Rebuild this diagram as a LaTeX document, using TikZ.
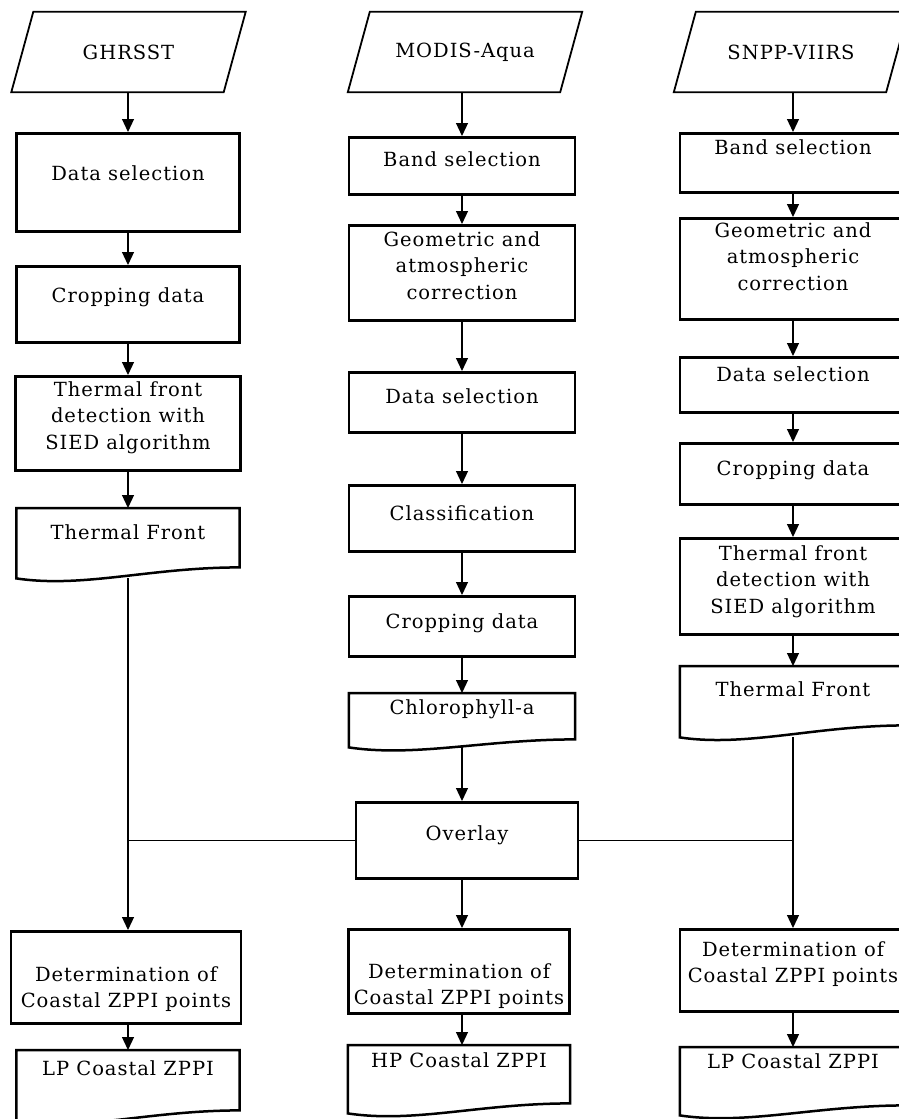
\documentclass[tikz,border=0pt]{standalone}
\usepackage{fontspec}
\setmainfont{DejaVu Serif}[LetterSpace=5]
\usetikzlibrary{positioning,arrows.meta}

% wavy bottom of a document box: node name, rise of the right end
\newcommand{\docwave}[2]{%
  \draw[line width=2.5pt] (#1.north west) -- (#1.north east) -- ([yshift=#2pt]#1.south east)
    .. controls ([xshift=-90pt,yshift=#2pt]#1.south east) and ([xshift=67pt,yshift=-10pt]#1.south west) .. (#1.south west) -- cycle;}
% slanted outline of an input node
\newcommand{\slanted}[1]{%
  \draw[line width=1.8pt] ([xshift=22pt]#1.north west) -- (#1.north east) -- ([xshift=-22pt]#1.south east) -- (#1.south west) -- cycle;}

\begin{document}
\begin{tikzpicture}[x=1pt,y=-1pt,font=\fontsize{19.5}{26.5}\selectfont]
\tikzstyle{source}=[inner sep=0pt,minimum width=234pt,minimum height=80pt]
\tikzstyle{procbox}=[draw,line width=2.8pt,inner sep=0pt,align=center,anchor=north]
\tikzstyle{docbox}=[inner sep=0pt,align=center,anchor=north]
\tikzstyle{arr}=[-{Triangle[width=12pt,length=13pt]},line width=1.2pt]
\useasboundingbox (0,0) rectangle (898,1119);

% GHRSST
    \node[source] (g0) at (128.5,52) {GHRSST};
    \node[procbox,minimum width=223pt,text height=47pt,text depth=51pt] (g1) at (128,132) {Data selection};
    \node[procbox,minimum width=223pt,text height=36pt,text depth=40pt] (g2) at (128,265) {Cropping data};
    \node[procbox,minimum width=225pt,text height=73pt,text depth=21pt] (g3) at (128,375) {Thermal front\\detection with\\SIED algorithm};
    \node[docbox,minimum width=223pt,text height=31pt,text depth=39pt] (g4) at (128,508) {Thermal Front};
    \node[procbox,minimum width=230pt,text height=76.5pt,text depth=15.5pt] (g5) at (126,930) {Determination of\\Coastal ZPPI points};
    \node[docbox,minimum width=223pt,text height=25pt,text depth=46pt] (g6) at (128,1050) {LP Coastal ZPPI};
    \slanted{g0}
    \docwave{g4}{11}
    \docwave{g6}{11}

% MODIS-Aqua
    \node[source] (m0) at (465,52) {MODIS-Aqua};
    \node[procbox,minimum width=226pt,text height=29pt,text depth=28pt] (m1) at (462,136) {Band selection};
    \node[procbox,minimum width=226pt,text height=74pt,text depth=21pt] (m2) at (462,224) {Geometric and\\atmospheric\\correction};
    \node[procbox,minimum width=226pt,text height=31pt,text depth=29pt] (m3) at (462,371) {Data selection};
    \node[procbox,minimum width=226pt,text height=35pt,text depth=31pt] (m4) at (462,484) {Classification};
    \node[procbox,minimum width=226pt,text height=32pt,text depth=28pt] (m5) at (462,595) {Cropping data};
    \node[docbox,minimum width=226pt,text height=21pt,text depth=33pt] (m6) at (462,693) {Chlorophyll-a};
    \node[procbox,minimum width=222pt,text height=38pt,text depth=38pt] (m7) at (467,801) {Overlay};
    \node[procbox,minimum width=221pt,text height=75.5pt,text depth=8.5pt] (m8) at (459,928) {Determination of\\Coastal ZPPI points};
    \node[docbox,minimum width=222pt,text height=22pt,text depth=46pt] (m9) at (459,1045) {HP Coastal ZPPI};
    \slanted{m0}
    \docwave{m6}{8}
    \docwave{m9}{10}

% SNPP-VIIRS
    \node[source] (s0) at (791,52) {SNPP-VIIRS};
    \node[procbox,minimum width=226pt,text height=21pt,text depth=38pt] (s1) at (793,132) {Band selection};
    \node[procbox,minimum width=226pt,text height=72pt,text depth=29pt] (s2) at (793,217) {Geometric and\\atmospheric\\correction};
    \node[procbox,minimum width=226pt,text height=24pt,text depth=31pt] (s3) at (793,356) {Data selection};
    \node[procbox,minimum width=226pt,text height=32pt,text depth=29pt] (s4) at (793,442) {Cropping data};
    \node[procbox,minimum width=226pt,text height=75pt,text depth=21pt] (s5) at (793,537) {Thermal front\\detection with\\SIED algorithm};
    \node[docbox,minimum width=226pt,text height=30pt,text depth=41pt] (s6) at (793,666) {Thermal Front};
    \node[procbox,minimum width=226pt,text height=53.5pt,text depth=28.5pt] (s7) at (793,928) {Determination of\\Coastal ZPPI points};
    \node[docbox,minimum width=226pt,text height=21pt,text depth=47pt] (s8) at (793,1047) {LP Coastal ZPPI};
    \slanted{s0}
    \docwave{s6}{12}
    \docwave{s8}{10}

% connectors
    \draw[arr] (g1.north |- g0.south) to (g1.north);
    \draw[arr] (g1.south) to (g2.north);
    \draw[arr] (g2.south) to (g3.north);
    \draw[arr] (g3.south) to (g4.north);
    \draw[arr] (g4.south) to (g4.south |- g5.north);
    \draw[arr] (g5.south -| g6.north) to (g6.north);
    \draw[arr] (m1.north |- m0.south) to (m1.north);
    \draw[arr] (m1.south) to (m2.north);
    \draw[arr] (m2.south) to (m3.north);
    \draw[arr] (m3.south) to (m4.north);
    \draw[arr] (m4.south) to (m5.north);
    \draw[arr] (m5.south) to (m6.north);
    \draw[arr] (m6.south) to (m6.south |- m7.north);
    \draw[arr] (m7.south -| m6.south) to (m6.south |- m8.north);
    \draw[arr] (m6.south |- m8.south) to (m6.south |- m9.north);
    \draw[arr] (s1.north |- s0.south) to (s1.north);
    \draw[arr] (s1.south) to (s2.north);
    \draw[arr] (s2.south) to (s3.north);
    \draw[arr] (s3.south) to (s4.north);
    \draw[arr] (s4.south) to (s5.north);
    \draw[arr] (s5.south) to (s6.north);
    \draw[arr] (s6.south) to (s7.north);
    \draw[arr] (s7.south) to (s8.north);
    \draw[line width=1.2pt] (m7.west) to (m7.west -| g4.south);
    \draw[line width=1.2pt] (m7.east) to (m7.east -| s6.south);
\end{tikzpicture}
\end{document}
